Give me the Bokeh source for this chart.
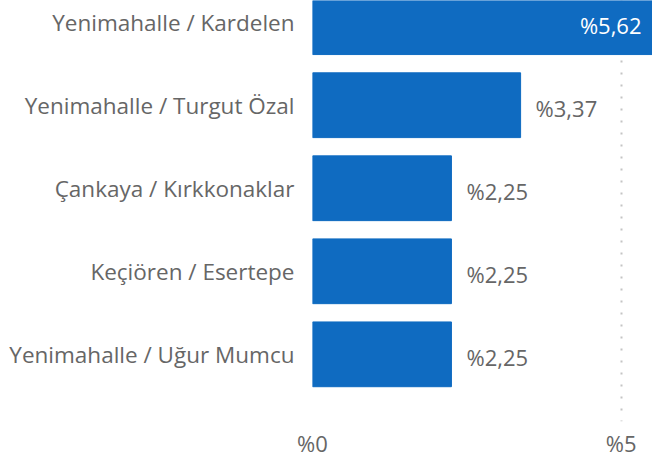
from bokeh.plotting import figure
from bokeh.models import Range1d, FixedTicker, ColumnDataSource
from bokeh.embed import file_html
from bokeh.resources import INLINE
from bokeh.core.properties import value

categories = [
    "Yenimahalle / Kardelen",
    "Yenimahalle / Turgut Özal",
    "Çankaya / Kırkkonaklar",
    "Keçiören / Esertepe",
    "Yenimahalle / Uğur Mumcu",
]
values = [5.62, 3.37, 2.25, 2.25, 2.25]
x_ticks = [0, 5]
x_tick_labels = ["%0", "%5"]

BAR = "#0f6bc1"
GRAY = "#666666"
FONT = "Open Sans"

XMAX = 5.506
idx = list(range(len(categories)))
labels = ["%" + f"{v:.2f}".replace(".", ",") for v in values]
inside = [v > XMAX for v in values]

p = figure(frame_width=340, frame_height=421, output_backend="svg",
           toolbar_location=None,
           x_range=Range1d(0, XMAX), y_range=Range1d(4.809, -0.261),
           min_border_left=312, min_border_right=0, min_border_top=0,
           min_border_bottom=37)
p.outline_line_color = None
p.background_fill_color = "white"
p.border_fill_color = "white"

p.hbar(y=idx, left=0, right=values, height=0.78, color=BAR)

src_out = ColumnDataSource(dict(
    x=[v for v, i in zip(values, inside) if not i],
    y=[k for k, i in zip(idx, inside) if not i],
    t=[l for l, i in zip(labels, inside) if not i]))
src_in = ColumnDataSource(dict(
    x=[XMAX for v, i in zip(values, inside) if i],
    y=[k for k, i in zip(idx, inside) if i],
    t=[l for l, i in zip(labels, inside) if i]))

p.text(x="x", y="y", text="t", source=src_out, x_offset=15, y_offset=3,
       text_align="left", text_baseline="middle", text_color=GRAY,
       text_font=value(FONT), text_font_size="22px")
p.text(x="x", y="y", text="t", source=src_in, x_offset=-11, y_offset=3,
       text_align="right", text_baseline="middle", text_color="white",
       text_font=value(FONT), text_font_size="22px")

p.xgrid.ticker = FixedTicker(ticks=x_ticks)
p.xgrid.grid_line_color = "#c4c4c4"
p.xgrid.grid_line_dash = "2 10"
p.xgrid.grid_line_width = 2
p.ygrid.grid_line_color = None

p.xaxis.ticker = FixedTicker(ticks=x_ticks)
p.xaxis.major_label_overrides = {t: l for t, l in zip(x_ticks, x_tick_labels)}
p.xaxis.axis_line_color = None
p.xaxis.major_tick_line_color = None
p.xaxis.minor_tick_line_color = None
p.xaxis.major_tick_in = 0
p.xaxis.major_tick_out = 0
p.xaxis.major_label_standoff = 6
p.xaxis.major_label_text_font = FONT
p.xaxis.major_label_text_font_size = "22px"
p.xaxis.major_label_text_color = GRAY

p.yaxis.ticker = FixedTicker(ticks=idx)
p.yaxis.major_label_overrides = {i: c for i, c in zip(idx, categories)}
p.yaxis.axis_line_color = None
p.yaxis.major_tick_line_color = None
p.yaxis.minor_tick_line_color = None
p.yaxis.major_tick_in = 0
p.yaxis.major_tick_out = 0
p.yaxis.major_label_standoff = 18
p.yaxis.major_label_text_font = FONT
p.yaxis.major_label_text_font_size = "22.5px"
p.yaxis.major_label_text_color = GRAY

open("out.html", "w").write(file_html(p, INLINE))
